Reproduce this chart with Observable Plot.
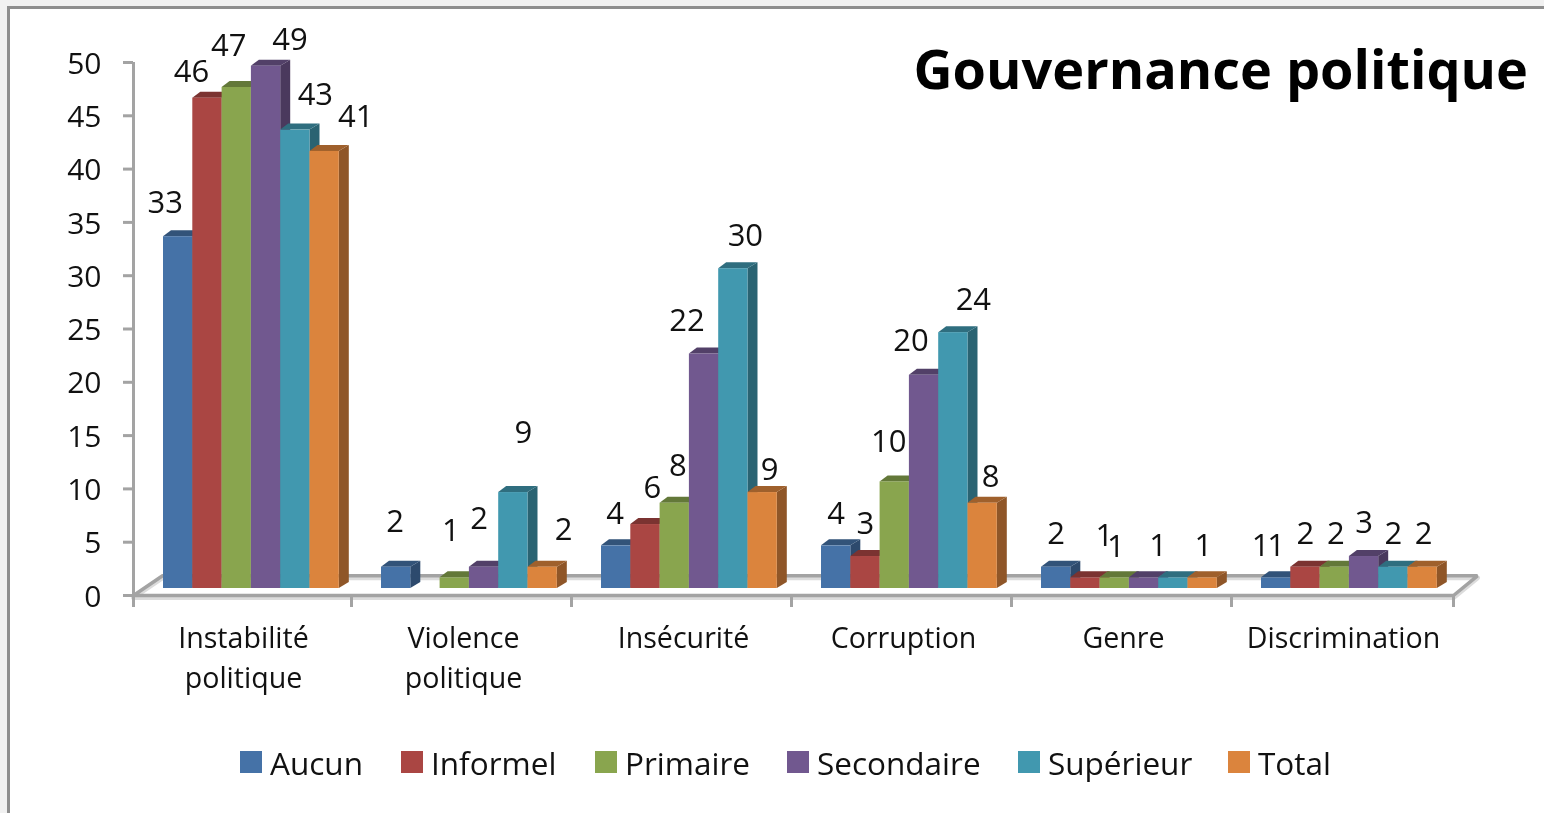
<!DOCTYPE html>
<html lang="fr">
<head>
<meta charset="utf-8">
<script src="https://cdn.jsdelivr.net/npm/d3@7"></script>
<script src="https://cdn.jsdelivr.net/npm/@observablehq/plot@0.6"></script>
<style>
  html, body { margin: 0; padding: 0; width: 1544px; height: 813px; overflow: hidden; background: #f1f1f1; font-family: "Open Sans", sans-serif; }
  #frame { position: absolute; left: 7px; top: 6px; right: -10px; bottom: -10px; background: #fff; border: 3px solid #8e8e8e; }
  #chart { position: absolute; left: 0; top: 0; }
  #chart, #title, #legend { filter: blur(0.45px); }
  #title { position: absolute; right: 16px; top: 29px; margin: 0; font: 700 54px/78px "Open Sans", sans-serif; color: #000; white-space: nowrap; }
  .item { position: absolute; top: 740px; height: 46px; line-height: 46px; font-size: 31.5px; color: #111; white-space: nowrap; }
  .sw { position: absolute; top: 751px; width: 22px; height: 22px; }
</style>
</head>
<body>
<div id="frame"></div>
<div id="chart"></div>
<h1 id="title">Gouvernance politique</h1>
<div id="legend"></div>
<script>
// --- data ---
const categories = ["Instabilité politique", "Violence politique", "Insécurité", "Corruption", "Genre", "Discrimination"];
const tickLabels = ["Instabilité\npolitique", "Violence\npolitique", "Insécurité", "Corruption", "Genre", "Discrimination"];
const series = ["Aucun", "Informel", "Primaire", "Secondaire", "Supérieur", "Total"];
const aucun      = [33, 2, 4, 4, 2, 1];
const informel   = [46, null, 6, 3, 1, 2];
const primaire   = [47, 1, 8, 10, 1, 2];
const secondaire = [49, 2, 22, 20, 1, 3];
const superieur  = [43, 9, 30, 24, 1, 2];
const total      = [41, 2, 9, 8, 1, 2];
const seriesValues = [aucun, informel, primaire, secondaire, superieur, total];
const colors = ["#4572A7", "#AA4643", "#89A54E", "#71588F", "#4198AF", "#DB843D"];
const yTicks = d3.range(0, 51, 5);

// --- layout / style (the reference's labels are hand-placed, so each has its own nudge) ---
const labelNudge = [
  [[-13,-34],[-16,-26],[-8,-41],[24,-26],[20,-35],[31,-34]],
  [[-1,-45],null,[-4,-47],[-5,-48],[10,-59],[21,-37]],
  [[-1,-32],[7,-36],[3,-37],[-17,-33],[12,-33],[7,-22]],
  [[0,-32],[0,-32],[-6,-40],[-13,-34],[20,-33],[8,-26]],
  [[0,-33],[19,-42],[1,-31],[14,-32],[30,-32],[58,-32]],
  [[0,-32],[0,-33],[1,-33],[0,-33],[0,-33],[1,-33]]
];
const barStart = 30 / 220, barStep = 29.3 / 220;
const innerShift = 2 / 220;     // the inner category boundaries sit slightly left of an even spacing
const liftBars = -7;            // the bars stand on the back part of the floor
const depth = {dx: 10, dy: -6}; // 3-D extrusion of each bar
const floorLeft = 0.132, floorRight = 0.109, floorY = 1.85;
const grey = "#a3a3a3";

const rows = categories.flatMap((category, g) => series.flatMap((name, s) => {
  const value = seriesValues[s][g];
  if (value == null) return [];
  const start = g + (g > 0 ? -innerShift : 0) + barStart;
  return [{category, name, value, x1: start + s * barStep, x2: start + (s + 1) * barStep, nudge: labelNudge[g][s]}];
}));

const boundaries = d3.range(7).map(i => (i > 0 && i < 6 ? i - innerShift : i));
const floor = [[0, 0], [6, 0], [6 + floorRight, floorY], [floorLeft, floorY], [0, 0]];

function extrude(index, scales, values, dimensions, context, next) {
  const g = next(index, scales, values, dimensions, context);
  const rects = Array.from(g.querySelectorAll("rect"));
  const ns = "http://www.w3.org/2000/svg";
  index.forEach((i, k) => {
    const x1 = values.x1[i], x2 = values.x2[i];
    const top = Math.min(values.y1[i], values.y2[i]), bottom = Math.max(values.y1[i], values.y2[i]);
    const base = d3.rgb(scales.color(rows[i].name));
    const faces = [
      [base.darker(1.2), [[x2, top], [x2 + depth.dx, top + depth.dy], [x2 + depth.dx, bottom + depth.dy], [x2, bottom]]],
      [base.darker(0.9), [[x1, top], [x1 + depth.dx - 2, top + depth.dy], [x2 + depth.dx, top + depth.dy], [x2, top]]]
    ];
    for (const [color, pts] of faces) {
      const p = document.createElementNS(ns, "polygon");
      p.setAttribute("points", pts.join(" "));
      p.setAttribute("fill", color.formatHex());
      rects[k].before(p);
    }
  });
  return g;
}

const chart = Plot.plot({
  width: 1544, height: 813,
  marginLeft: 133, marginRight: 91, marginTop: 62, marginBottom: 218,
  style: {background: "transparent", fontFamily: "'Open Sans', sans-serif", overflow: "visible"},
  x: {domain: [0, 6], axis: null},
  y: {domain: [0, 50], axis: null},
  color: {domain: series, range: colors},
  marks: [
    Plot.line(floor, {x: d => d[0], y: d => d[1], stroke: "#dcdcdc", strokeWidth: 5, dy: 2}),
    Plot.line(floor, {x: d => d[0], y: d => d[1], stroke: grey, strokeWidth: 3.5, strokeLinejoin: "miter"}),
    Plot.ruleX([0], {y1: 0, y2: 50, stroke: grey, strokeWidth: 3}),
    Plot.axisY({ticks: yTicks, tickSize: 10, tickFormat: () => "", stroke: grey, strokeWidth: 3, label: null}),
    Plot.axisY({ticks: yTicks, tickSize: 0, tickPadding: 32, dy: 1.5, fontSize: 30, fill: "#111", label: null}),
    Plot.axisX({ticks: boundaries, tickSize: 12, tickFormat: () => "", stroke: grey, strokeWidth: 3, label: null}),
    Plot.axisX({ticks: d3.range(6).map(i => i + 0.5), tickSize: 0, tickPadding: 23, fontSize: 28.6, lineHeight: 1.43,
                tickFormat: d => tickLabels[d - 0.5], fill: "#111", label: null, textOverflow: null}),
    Plot.rect(rows, {x1: "x1", x2: "x2", y1: () => 0, y2: "value", fill: "name", dy: liftBars, render: extrude}),
    ...rows.map(r => Plot.text([r], {
      x: d => (d.x1 + d.x2) / 2, y: "value", text: "value",
      dx: r.nudge[0], dy: liftBars + r.nudge[1], fontSize: 31, fill: "#111"
    }))
  ]
});
document.getElementById("chart").append(chart);

// legend, built from the same series and colours
const legendSwatchX = [240, 401, 595, 787, 1018, 1228];
const legend = document.getElementById("legend");
series.forEach((name, i) => {
  const sw = document.createElement("div");
  sw.className = "sw"; sw.style.left = legendSwatchX[i] + "px"; sw.style.background = colors[i];
  const t = document.createElement("div");
  t.className = "item"; t.style.left = (legendSwatchX[i] + 30) + "px"; t.textContent = name;
  legend.append(sw, t);
});
</script>
</body>
</html>
